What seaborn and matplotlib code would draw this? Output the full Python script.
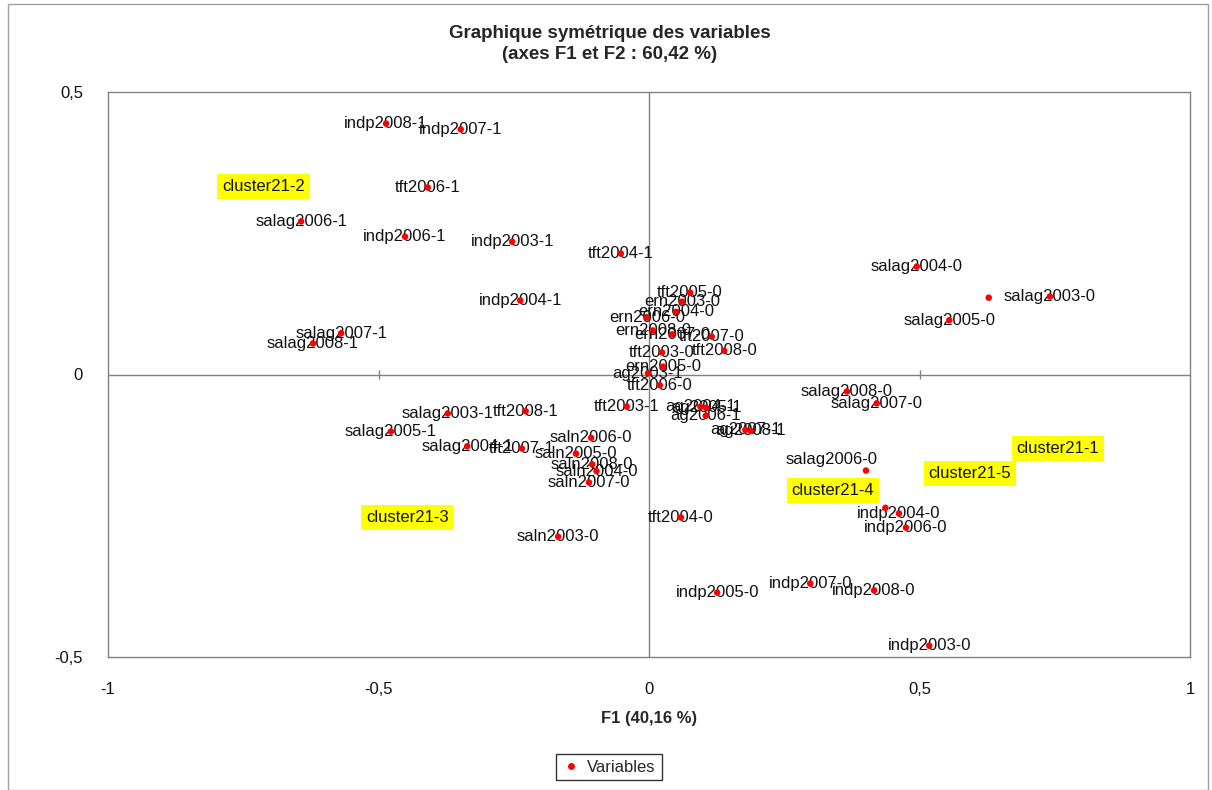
import numpy as np
import pandas as pd
import matplotlib
matplotlib.use("Agg")
import matplotlib.pyplot as plt
from matplotlib.ticker import FixedLocator, FuncFormatter
from matplotlib.patches import Rectangle
import seaborn as sns

# Coordinates of the variables on the first two factorial axes
var_names = [
    "indp2008-1", "indp2007-1", "tft2006-1", "salag2006-1", "indp2006-1",
    "indp2003-1", "tft2004-1", "indp2004-1", "salag2007-1", "salag2008-1",
    "salag2004-0", "salag2003-0", "salag2005-0",
    "tft2005-0", "ern2003-0", "ern2004-0", "ern2006-0", "ern2008-0",
    "ern2007-0", "tft2007-0", "tft2003-0", "tft2008-0", "ern2005-0",
    "ag2003-1", "tft2006-0",
    "tft2003-1", "ag2004-1", "ag2005-1", "ag2006-1", "ag2007-1", "ag2008-1",
    "salag2003-1", "tft2008-1", "salag2005-1", "salag2004-1", "tft2007-1",
    "saln2006-0", "saln2005-0", "saln2008-0", "saln2004-0", "saln2007-0",
    "saln2003-0",
    "salag2008-0", "salag2007-0", "salag2006-0", "indp2004-0", "indp2006-0",
    "tft2004-0", "indp2005-0", "indp2007-0", "indp2008-0", "indp2003-0",
]
f1 = [
    -0.486, -0.348, -0.409, -0.643, -0.451,
    -0.253, -0.052, -0.238, -0.569, -0.621,
    0.495, 0.741, 0.555,
    0.076, 0.061, 0.050, -0.004, 0.007,
    0.043, 0.116, 0.024, 0.139, 0.026,
    -0.002, 0.020,
    -0.041, 0.095, 0.106, 0.105, 0.178, 0.188,
    -0.372, -0.228, -0.477, -0.336, -0.235,
    -0.107, -0.135, -0.105, -0.097, -0.111,
    -0.168,
    0.366, 0.421, 0.401, 0.462, 0.475,
    0.059, 0.126, 0.298, 0.416, 0.518,
]
f2 = [
    0.444, 0.434, 0.331, 0.271, 0.244,
    0.235, 0.214, 0.131, 0.073, 0.055,
    0.191, 0.138, 0.096,
    0.145, 0.129, 0.111, 0.101, 0.078,
    0.071, 0.067, 0.039, 0.042, 0.014,
    0.002, -0.019,
    -0.057, -0.057, -0.059, -0.073, -0.098, -0.100,
    -0.069, -0.065, -0.101, -0.127, -0.131,
    -0.112, -0.140, -0.159, -0.171, -0.191,
    -0.287,
    -0.030, -0.051, -0.170, -0.246, -0.271,
    -0.253, -0.386, -0.370, -0.382, -0.480,
]

# Cluster centroids (some are not shown) and where their tags sit
cluster_names = ["cluster21-1", "cluster21-2", "cluster21-3", "cluster21-4", "cluster21-5"]
cluster_f1 = [0.628, np.nan, np.nan, 0.437, np.nan]
cluster_f2 = [0.136, np.nan, np.nan, -0.236, np.nan]
cluster_tag_f1 = [0.756, -0.712, -0.447, 0.340, 0.593]
cluster_tag_f2 = [-0.131, 0.333, -0.253, -0.205, -0.175]

x_ticks = [-1, -0.5, 0, 0.5, 1]
y_ticks = [-0.5, 0, 0.5]

title = "Graphique symétrique des variables\n(axes F1 et F2 : 60,42 %)"
x_title = "F1 (40,16 %)"
legend_label = "Variables"

# label nudges (in pixels) for tags that were moved off their point
label_nudge = {"salag2006-0": (-34, 11)}

sns.set_theme(style="white")
plt.rcParams["font.family"] = ["Liberation Sans", "DejaVu Sans"]

W, H = 1212, 790
fig = plt.figure(figsize=(W / 100, H / 100), dpi=100)
fig.patch.set_facecolor("white")
ax = fig.add_axes([108 / W, 1 - 657 / H, (1190 - 108) / W, (657 - 92) / H])

df = pd.DataFrame({"F1": f1, "F2": f2, "label": var_names, "kind": legend_label})
cdf = pd.DataFrame({"F1": cluster_f1, "F2": cluster_f2})

grey = "#808080"
ax.axhline(0, color=grey, lw=1, zorder=1)
ax.axvline(0, color=grey, lw=1, zorder=1)
# small tick marks along the zero lines
ax.vlines([-0.5, 0.5], -0.008, 0.008, color=grey, lw=1, zorder=1)

sns.scatterplot(data=df, x="F1", y="F2", hue="kind", palette=["#FF0000"],
                s=22, edgecolor="none", ax=ax, zorder=3, legend=False)
sns.scatterplot(data=cdf, x="F1", y="F2", color="#FF0000", s=22,
                edgecolor="none", ax=ax, zorder=3, legend=False)

for name, x, y in zip(var_names, f1, f2):
    dx, dy = label_nudge.get(name, (0, 0))
    ax.annotate(name, (x, y), xytext=(dx * 0.72, dy * 0.72), textcoords="offset points",
                ha="center", va="center", fontsize=12, color="#111111", zorder=2)

for name, x, y in zip(cluster_names, cluster_tag_f1, cluster_tag_f2):
    ax.text(x, y, name, ha="center", va="center", fontsize=12, color="#111111",
            bbox=dict(boxstyle="square,pad=0.3", fc="#FFFF00", ec="none"), zorder=4)

ax.set_xlim(-1, 1)
ax.set_ylim(-0.5, 0.5)
ax.xaxis.set_major_locator(FixedLocator(x_ticks))
ax.yaxis.set_major_locator(FixedLocator(y_ticks))
comma = FuncFormatter(lambda v, p: ("%g" % v).replace(".", ","))
ax.xaxis.set_major_formatter(comma)
ax.yaxis.set_major_formatter(comma)
ax.tick_params(axis="x", length=0, pad=18, labelsize=12, labelcolor="#111111")
ax.tick_params(axis="y", length=0, pad=18, labelsize=12, labelcolor="#111111")
ax.set_xlabel(x_title, fontsize=12, fontweight="bold", labelpad=10)
ax.set_ylabel("")
for sp in ax.spines.values():
    sp.set_color(grey)
    sp.set_linewidth(1)

fig.text(610 / W, 1 - 44 / H, title, ha="center", va="center", fontsize=13.5,
         fontweight="bold", linespacing=1.3)

# outer chart frame
fig.patches.append(Rectangle((8 / W, 0), (W - 12) / W, 1 - 4 / H,
                             transform=fig.transFigure, fill=False,
                             ec="#a0a0a0", lw=1))

handle = plt.Line2D([], [], marker="o", color="none", markerfacecolor="#FF0000",
                    markeredgecolor="none", markersize=5)
leg = fig.legend([handle], [legend_label], loc="center",
                 bbox_to_anchor=(609 / W, 1 - 767 / H), frameon=True,
                 fancybox=False, fontsize=12, handlelength=1.0,
                 handletextpad=0.5, borderpad=0.35)
leg.get_frame().set_edgecolor("black")
leg.get_frame().set_linewidth(1)

fig.savefig("out.png", dpi=100, facecolor="white")
